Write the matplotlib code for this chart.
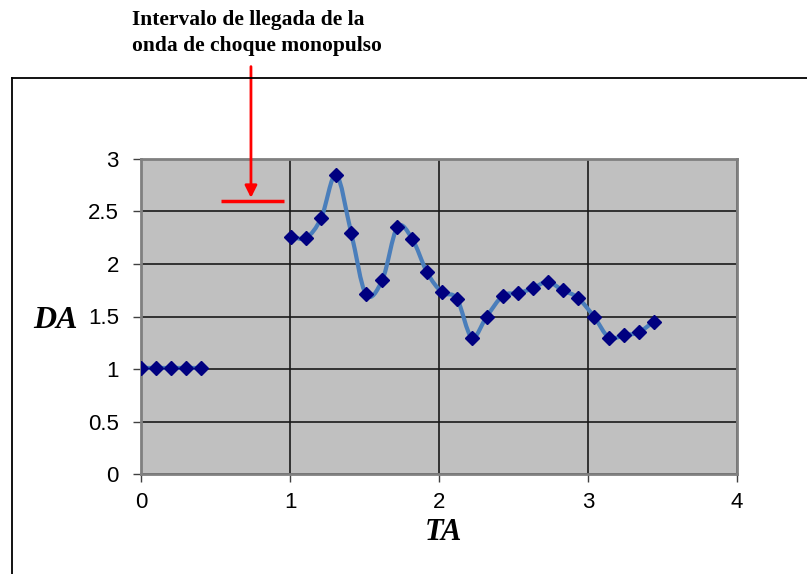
import numpy as np
import matplotlib.pyplot as plt
from matplotlib.path import Path
from matplotlib.patches import PathPatch
from matplotlib.lines import Line2D

# data
ta1 = [0.0, 0.1, 0.2, 0.3, 0.4]
da1 = [1.01, 1.01, 1.01, 1.01, 1.01]

ta2 = [1.01, 1.11, 1.21, 1.31, 1.41, 1.51, 1.62, 1.72, 1.82, 1.92, 2.02, 2.12,
       2.22, 2.32, 2.43, 2.53, 2.63, 2.73, 2.83, 2.93, 3.04, 3.14, 3.24, 3.34, 3.44]
da2 = [2.26, 2.25, 2.44, 2.85, 2.30, 1.71, 1.85, 2.35, 2.24, 1.92, 1.73, 1.67,
       1.30, 1.50, 1.70, 1.72, 1.77, 1.83, 1.75, 1.68, 1.50, 1.30, 1.32, 1.35, 1.45]

xticks = [0, 1, 2, 3, 4]
yticks = [0, 0.5, 1, 1.5, 2, 2.5, 3]
note = 'Intervalo de llegada de la\nonda de choque monopulso'


def smooth_path(x, y):
    # excel style smoothed line: cubic bezier, control points from neighbours
    p = np.column_stack([x, y])
    n = len(p)
    verts = [p[0]]
    codes = [Path.MOVETO]
    for i in range(n - 1):
        p0 = p[max(i - 1, 0)]
        p3 = p[min(i + 2, n - 1)]
        c1 = p[i] + (p[i + 1] - p0) / 6.0
        c2 = p[i + 1] - (p3 - p[i]) / 6.0
        verts += [c1, c2, p[i + 1]]
        codes += [Path.CURVE4] * 3
    return Path(verts, codes)


fig = plt.figure(figsize=(8.07, 5.74), dpi=100)
ax = fig.add_axes([141/807, 1 - 474/574, 596/807, 315/574])
ax.set_facecolor('#C0C0C0')

for x, y in ((ta1, da1), (ta2, da2)):
    ax.add_patch(PathPatch(smooth_path(x, y), fill=False, ec='#4A7EBB', lw=3,
                           capstyle='round', joinstyle='round', zorder=3))
    ax.plot(x, y, ls='none', marker='D', ms=7.5, color='#000080', zorder=4)

ax.set_xlim(0, 4)
ax.set_ylim(0, 3)
ax.set_xticks(xticks)
ax.set_yticks(yticks)
ax.set_xticklabels([str(t) for t in xticks])
ax.set_yticklabels(['0', '0.5', '1', '1.5', '2', '2.5', '3'])
ax.tick_params(labelsize=16, length=6, width=1, color='#404040', direction='out')
ax.tick_params(axis='y', pad=10)
ax.tick_params(axis='x', pad=7)
for lab in ax.get_xticklabels() + ax.get_yticklabels():
    lab.set_fontfamily('Liberation Sans')

ax.grid(True, color='#1a1a1a', lw=1.2)
ax.set_axisbelow(True)
for s in ax.spines.values():
    s.set_color('#808080')
    s.set_linewidth(2)

# red marker of the arrival interval
ax.plot([0.54, 0.96], [2.6, 2.6], color='#FF0000', lw=2.5, solid_capstyle='butt',
        zorder=5)
ax.annotate('', xy=(0.738, 2.63), xytext=(0.738, 3.88),
            arrowprops=dict(arrowstyle='-|>', color='#FF0000', lw=2,
                            mutation_scale=18, shrinkA=0, shrinkB=0),
            annotation_clip=False)

fig.text(132/807, 1 - 10/574, note, ha='left', va='top', fontsize=15.5,
         fontweight='bold', family='Liberation Serif', linespacing=1.38)

fig.text(55/807, 1 - 320/574, 'DA', ha='center', va='center', fontsize=23,
         fontweight='bold', fontstyle='italic', family='Liberation Serif')
fig.text(443/807, 1 - 533/574, 'TA', ha='center', va='center', fontsize=22,
         fontweight='bold', fontstyle='italic', family='Liberation Serif')

# chart area border (cut off by the picture on the right and bottom)
fig.add_artist(Line2D([12/807, 1.0], [1 - 78/574, 1 - 78/574], color='black', lw=1.3))
fig.add_artist(Line2D([12/807, 12/807], [0, 1 - 78/574], color='black', lw=1.3))

fig.savefig('out.png', dpi=100)
